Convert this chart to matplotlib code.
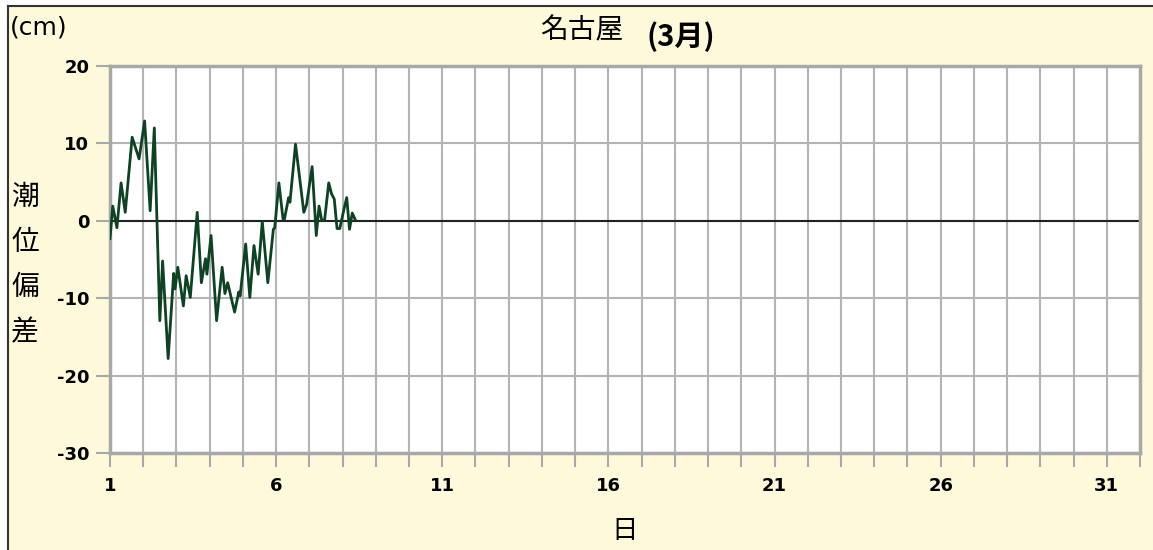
import matplotlib.pyplot as plt
import matplotlib.patches as mpatches
import numpy as np

plt.rcParams['font.family'] = ['Noto Sans CJK JP', 'DejaVu Sans']
plt.rcParams['axes.unicode_minus'] = False

# hours since 1st 00:00 and tide anomaly (cm)
hours = [0, 2, 5, 8, 11, 16, 21, 25, 29, 32, 36, 38, 42, 46, 47, 49, 53, 55, 58,
         63, 66, 69, 70, 73, 77, 81, 83, 85, 90, 93, 94, 98, 101, 104, 107, 110,
         114, 118, 119, 122, 125, 126, 129, 130, 134, 140, 142, 146, 149, 151,
         153, 155, 158, 160, 162, 164, 166, 169, 171, 173, 175, 177]
anomaly = [-2.3, 1.9, -0.9, 4.9, 1.1, 10.8, 8.0, 12.9, 1.3, 12.0, -12.9, -5.2,
           -17.8, -6.8, -8.8, -6.0, -11.0, -7.1, -9.9, 1.1, -8.0, -4.9, -6.9,
           -1.9, -12.9, -6.0, -9.4, -8.0, -11.8, -9.2, -9.7, -3.0, -9.9, -3.2,
           -6.9, -0.1, -8.0, -1.1, -0.9, 4.9, 0.2, 0.2, 3.0, 2.4, 9.9, 1.1, 2.1,
           7.0, -1.9, 1.9, 0.0, 0.1, 4.9, 3.5, 2.8, -1.0, -1.0, 1.5, 3.0, -1.1,
           1.0, 0.2]
xticks = [1, 6, 11, 16, 21, 26, 31]
yticks = [-30, -20, -10, 0, 10, 20]

days = 1 + np.array(hours) / 24.0

fig = plt.figure(figsize=(11.53, 5.5), dpi=100, facecolor='white')
# yellow panel with the black frame lines on top and left
fig.patches.append(mpatches.Rectangle((8 / 1153, 0), 1, 1 - 6 / 550, transform=fig.transFigure,
                                      facecolor='#fff9dc', edgecolor='none', zorder=-10))
fig.add_artist(plt.Line2D([8 / 1153, 8 / 1153], [0, 1 - 6 / 550], color='#333333', lw=1.5,
                          transform=fig.transFigure, zorder=-5))
fig.add_artist(plt.Line2D([8 / 1153, 1], [1 - 6 / 550, 1 - 6 / 550], color='#333333', lw=1.5,
                          transform=fig.transFigure, zorder=-5))

ax = fig.add_axes([110 / 1153, 1 - 453 / 550, (1140 - 110) / 1153, (453 - 66) / 550])
ax.set_facecolor('white')
ax.set_xlim(1, 32)
ax.set_ylim(-30, 20)

ax.set_xticks(range(1, 33))
ax.set_xticklabels([str(d) if d in xticks else '' for d in range(1, 33)])
ax.set_yticks(yticks)
ax.grid(True, color='#b4b4b4', lw=1.5)
ax.set_axisbelow(True)
ax.axhline(0, color='#222222', lw=1.5, zorder=2)
ax.plot(days, anomaly, color='#0d4222', lw=2.0, zorder=3)

for s in ax.spines.values():
    s.set_color('#a8a8a8')
    s.set_linewidth(2.5)
ax.tick_params(colors='#a8a8a8', length=10, width=1.5, labelcolor='black', labelsize=13, pad=5)
ax.tick_params(axis='x', pad=7)
for lab in ax.get_xticklabels() + ax.get_yticklabels():
    lab.set_fontweight('bold')
    lab.set_family('DejaVu Sans')

fig.text(10 / 1153, 1 - 27 / 550, '(cm)', fontsize=18, va='center', ha='left', family='DejaVu Sans')
fig.text(582 / 1153, 1 - 30 / 550, '名古屋', fontsize=20, va='center', ha='center')
fig.text(681 / 1153, 1 - 37 / 550, '(3月)', fontsize=21, va='center', ha='center', fontweight='bold')
for i, ch in enumerate('潮位偏差'):
    fig.text(25 / 1153, 1 - (197 + 45 * i) / 550, ch, fontsize=20, va='center', ha='center')
fig.text(625 / 1153, 1 - 530 / 550, '日', fontsize=19, va='center', ha='center')

fig.savefig('out.png', dpi=100, facecolor=fig.get_facecolor())
